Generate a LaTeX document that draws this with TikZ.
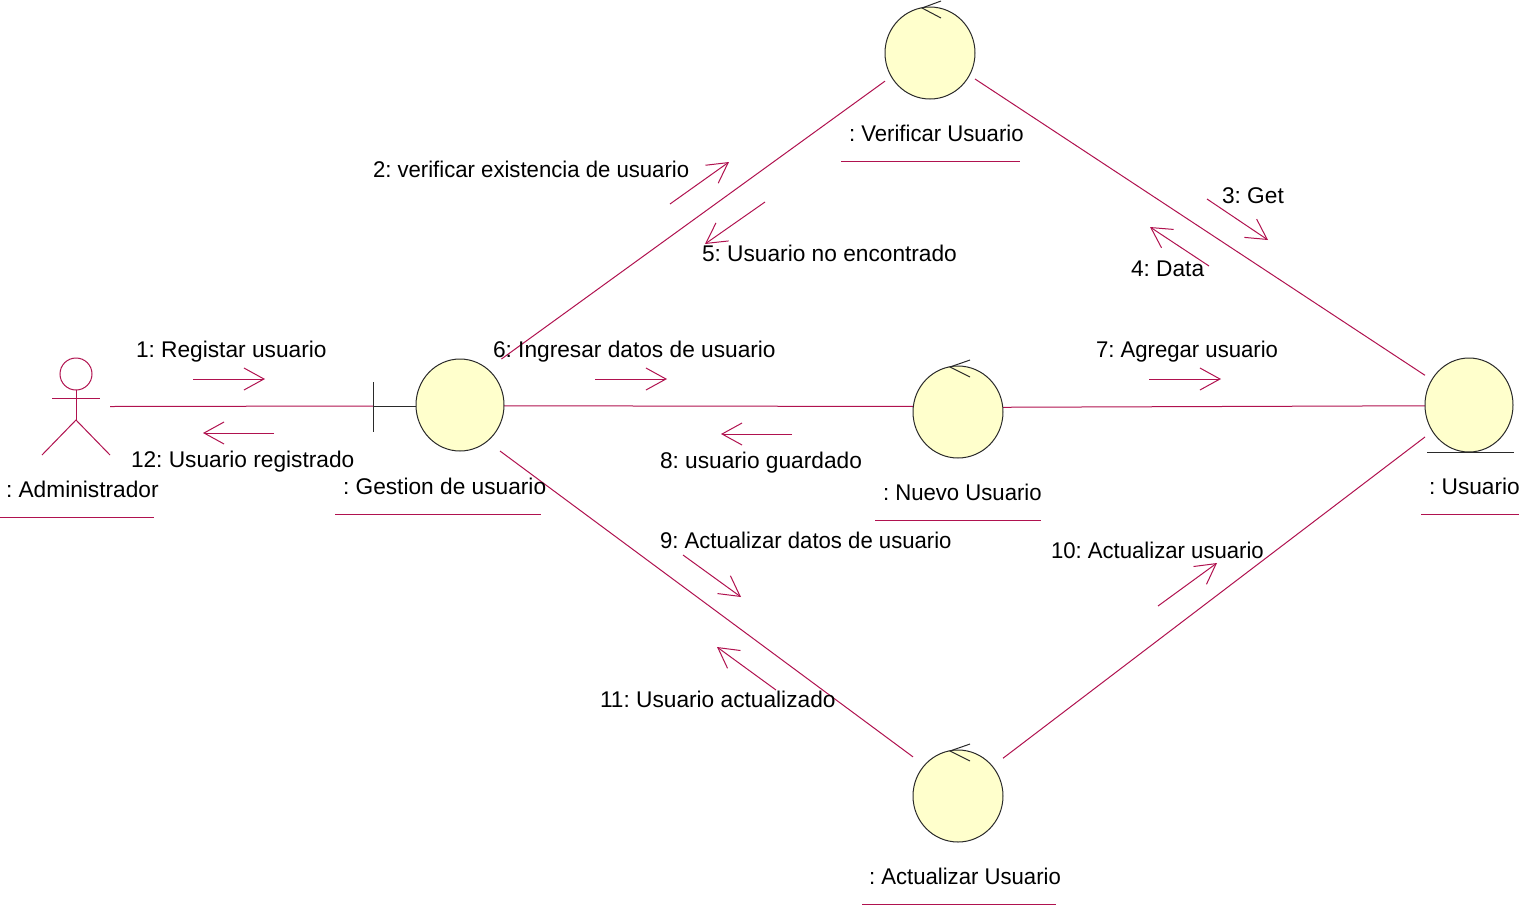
\documentclass[tikz,border=0pt]{standalone}
\usepackage{fontspec}
\setmainfont{Liberation Sans}
\newfontfamily\narrowface[FakeStretch=0.975]{Liberation Sans}
\usetikzlibrary{arrows.meta}
\definecolor{rose}{HTML}{B0124F}
\definecolor{robofill}{HTML}{FFFFCC}
\definecolor{ink}{HTML}{2A2A2A}
\frenchspacing
\tikzset{
  x=1pt,y=-1pt,
  assoc/.style={draw=rose,line width=1pt},
  blk/.style={draw=ink,line width=1pt},
  msg/.style={draw=rose,line width=1pt,-{Straight Barb[length=20pt,width=22pt,line width=1pt]}},
  robo/.style={draw=ink,line width=1pt,fill=robofill},
  box/.style={rectangle,draw=none,inner sep=0pt,outer sep=0pt,minimum width=90pt,minimum height=92pt},
  lbl/.style={anchor=base west,inner sep=0pt,outer sep=0pt,text=black,font=\fontsize{22.7}{26}\selectfont},
  nlbl/.style={lbl,font=\fontsize{22.7}{26}\selectfont\narrowface},
  uline/.style={draw=rose,line width=1pt},
}
\begin{document}
\begin{tikzpicture}
\useasboundingbox (0,0) rectangle (1519,906);
% element boxes
\node[box,minimum width=68pt,minimum height=97pt] (actor) at (76,406.5) {};
\node[box,minimum width=88pt] (ges) at (460,405) {};
\node[box] (ver) at (930,53) {};
\node[box] (nue) at (958,412) {};
\node[box] (act) at (958,796) {};
\node[box,minimum width=88pt,minimum height=94pt] (usu) at (1469,405) {};
\coordinate (bar) at (373,406);
% associations
\draw[assoc] (actor.east) -- (bar);
\draw[blk] (bar) -- (ges.west |- bar);
\draw[blk] (373,382) -- (373,432);
\draw[assoc] (ges.48.4) -- (ver.212.5);
\draw[assoc] (ges.-1) -- (nue.173.7);
\draw[assoc] (ges.-49.6) -- (act.139.8);
\draw[assoc] (ver.-30) -- (usu.146.6);
\draw[assoc] (nue.6.3) -- (usu.181);
\draw[assoc] (act.40.9) -- (usu.216);
% actor
\draw[assoc] (76,374) circle (16);
\draw[assoc] (76,390) -- (76,420);
\draw[assoc] (52,398) -- (100,398);
\draw[assoc] (42,455) -- (76,420) -- (110,455);
% robustness shapes
\draw[robo] (ges.center) ellipse (44 and 46);
\draw[robo] (ver.center) ellipse (45 and 46);
\draw[robo] (nue.center) ellipse (45 and 46);
\draw[robo] (act.center) ellipse (45 and 46);
\draw[robo] (usu.center) ellipse (44 and 47);
\draw[blk] (1427,452) -- (1514,452);
\draw[blk] (941,1) -- (922,8) -- (941,18);
\draw[blk] (970,360) -- (950,367) -- (970,377);
\draw[blk] (970,744) -- (950,751) -- (970,761);
% messages
\coordinate (a1) at (193,379);  \coordinate (b1) at (265,379);
\coordinate (a2) at (670,204);  \coordinate (b2) at (729,162);
\coordinate (a3) at (1207,199); \coordinate (b3) at (1268,240);
\coordinate (a4) at (1209,266); \coordinate (b4) at (1150,227);
\coordinate (a5) at (765,202);  \coordinate (b5) at (705,244);
\coordinate (a6) at (595,379);  \coordinate (b6) at (667,379);
\coordinate (a7) at (1149,379); \coordinate (b7) at (1221,379);
\coordinate (a8) at (792,434);  \coordinate (b8) at (721,434);
\coordinate (a9) at (683,555);  \coordinate (b9) at (741,597);
\coordinate (a10) at (1158,606);\coordinate (b10) at (1217,563);
\coordinate (a11) at (776,690); \coordinate (b11) at (717,647);
\coordinate (a12) at (274,433); \coordinate (b12) at (203,433);
\foreach \i in {1,...,12} {\draw[msg] (a\i) -- (b\i);}
% labels
\node[lbl] (t1) at (136,357) {1: Registar usuario};
\node[nlbl] (t2) at (373,177) {2: verificar existencia de usuario};
\node[lbl] (t3) at (1222,203) {3: Get};
\node[lbl] (t4) at (1131,276) {4: Data};
\node[lbl] (t5) at (702,261) {5: Usuario no encontrado};
\node[lbl] (t6) at (493,357) {6: Ingresar datos de usuario};
\node[nlbl] (t7) at (1096,357) {7: Agregar usuario};
\node[lbl] (t8) at (660,468) {8: usuario guardado};
\node[nlbl] (t9) at (660,548) {9: Actualizar datos de usuario};
\node[nlbl] (t10) at (1051,558) {10: Actualizar usuario};
\node[lbl] (t11) at (600,707) {11: Usuario actualizado};
\node[lbl] (t12) at (131,467) {12: Usuario registrado};
\node[lbl] (nactor) at (6,497) {: Administrador};
\node[lbl] (nges) at (343,494) {: Gestion de usuario};
\node[nlbl] (nver) at (849,141) {: Verificar Usuario};
\node[nlbl] (nnue) at (883,500) {: Nuevo Usuario};
\node[lbl] (nusu) at (1429,494) {: Usuario};
\node[nlbl] (nact) at (869,884) {: Actualizar Usuario};
% name underlines
\draw[uline] (0,517) -- (154,517);
\draw[uline] (335,514) -- (541,514);
\draw[uline] (841,161) -- (1020,161);
\draw[uline] (875,520) -- (1041,520);
\draw[uline] (1421,514) -- (1519,514);
\draw[uline] (862,904) -- (1056,904);
\end{tikzpicture}
\end{document}
